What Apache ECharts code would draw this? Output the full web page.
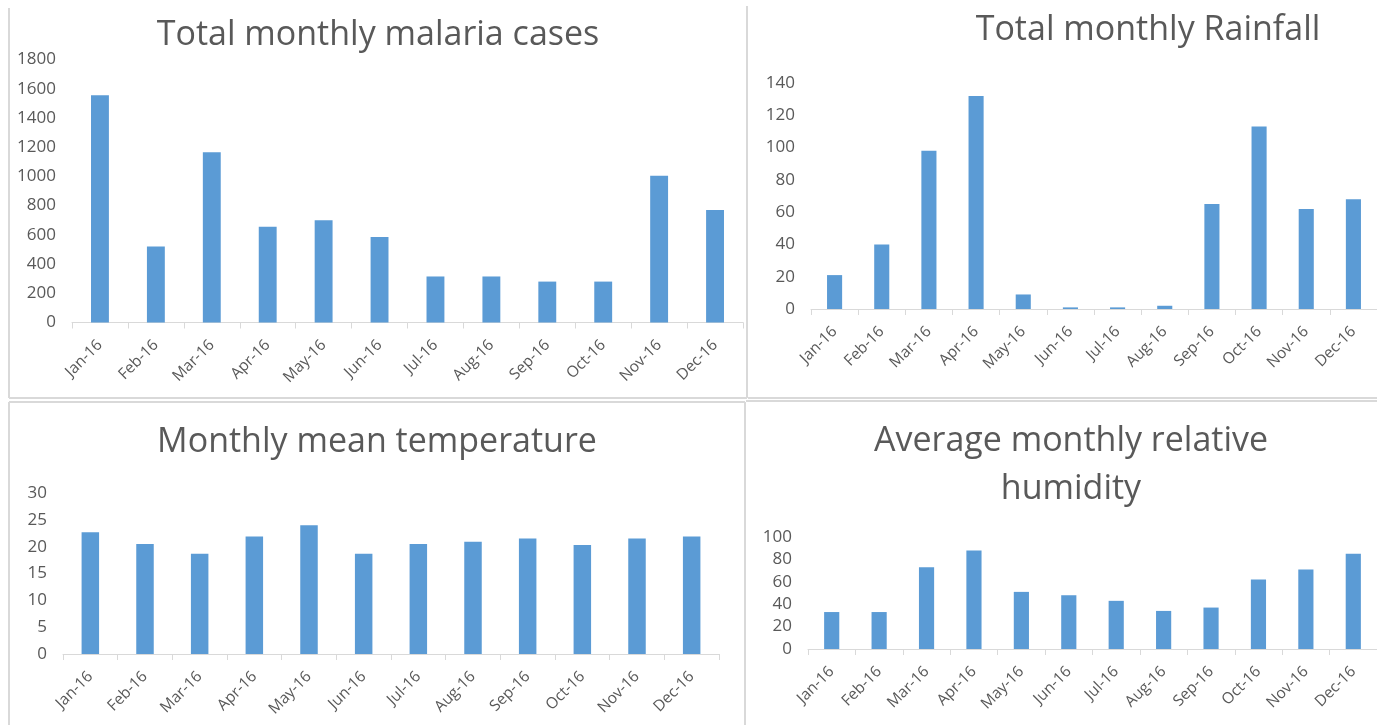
<!DOCTYPE html>
<html>
<head>
<meta charset="utf-8">
<title>Malaria and climate, 2016</title>
<script src="https://cdn.jsdelivr.net/npm/echarts@6/dist/echarts.min.js"></script>
<style>
  html, body { margin: 0; padding: 0; background: #fff; }
  #main { width: 1377px; height: 725px; }
</style>
</head>
<body>
<div id="main"></div>
<script>
var months = ['Jan-16', 'Feb-16', 'Mar-16', 'Apr-16', 'May-16', 'Jun-16',
              'Jul-16', 'Aug-16', 'Sep-16', 'Oct-16', 'Nov-16', 'Dec-16'];
var malariaCases = [1555, 520, 1165, 655, 700, 585, 315, 315, 280, 280, 1005, 770];
var rainfall = [21, 40, 98, 132, 9, 1, 1, 2, 65, 113, 62, 68];
var temperature = [22.7, 20.5, 18.7, 21.9, 24.0, 18.7, 20.5, 20.9, 21.5, 20.3, 21.5, 21.9];
var humidity = [33, 33, 73, 88, 51, 48, 43, 34, 37, 62, 71, 85];

var titles = ['Total monthly malaria cases', 'Total monthly Rainfall',
              'Monthly mean temperature', 'Average monthly relative\nhumidity'];
var yMax = [1800, 140, 30, 100];
var yStep = [200, 20, 5, 20];

var barColor = '#5b9bd5';
var textColor = '#595959';
var lineColor = '#d9d9d9';
var font = 'Open Sans';

var myChart = echarts.init(document.getElementById('main'));

// grid boxes for the four panels
var grids = [
    {left: 72, top: 59.5, width: 671, height: 263},
    {left: 811, top: 83, width: 566, height: 226},
    {left: 63, top: 493, width: 656, height: 161},
    {left: 808, top: 537, width: 569, height: 112}
];
var titlePos = [[378, 35], [1148, 30], [377, 442], [1071, 465]];
var seriesData = [malariaCases, rainfall, temperature, humidity];
var names = ['Malaria cases', 'Rainfall', 'Temperature', 'Relative humidity'];

var xAxes = [], yAxes = [], series = [], graphics = [];
for (var i = 0; i < 4; i++) {
    xAxes.push({
        type: 'category',
        gridIndex: i,
        data: months,
        axisLine: {lineStyle: {color: lineColor, width: 1}},
        axisTick: {show: true, length: 6, lineStyle: {color: lineColor}},
        axisLabel: {rotate: 45, color: textColor, fontFamily: font, fontSize: 15.5, margin: 20, interval: 0}
    });
    yAxes.push({
        type: 'value',
        gridIndex: i,
        min: 0,
        max: yMax[i],
        interval: yStep[i],
        axisLine: {show: false},
        axisTick: {show: false},
        splitLine: {show: false},
        axisLabel: {
            color: textColor, fontFamily: font, fontSize: 17, margin: 16,
            formatter: function (v) { return String(v); }
        }
    });
    series.push({
        name: names[i],
        type: 'bar',
        xAxisIndex: i,
        yAxisIndex: i,
        data: seriesData[i],
        barWidth: '32%',
        itemStyle: {color: barColor}
    });
    graphics.push({
        type: 'text',
        x: titlePos[i][0],
        y: titlePos[i][1],
        style: {
            text: titles[i],
            fill: textColor,
            font: '34px "' + font + '"',
            textAlign: 'center',
            textVerticalAlign: 'middle',
            lineHeight: 48
        }
    });
}

// panel frames
var frames = [
    [9, 8, 9, 398], [9, 398, 747, 398], [747, 6, 747, 398],
    [748, 398, 1377, 398],
    [9, 402, 745, 402], [9, 402, 9, 725], [745, 402, 745, 725],
    [746, 401, 1377, 401]
];
frames.forEach(function (f) {
    graphics.push({
        type: 'line',
        shape: {x1: f[0], y1: f[1], x2: f[2], y2: f[3]},
        style: {stroke: lineColor, lineWidth: 2}
    });
});

var option = {
    animation: false,
    backgroundColor: '#fff',
    grid: grids,
    xAxis: xAxes,
    yAxis: yAxes,
    series: series,
    graphic: graphics
};
myChart.setOption(option);
</script>
</body>
</html>
